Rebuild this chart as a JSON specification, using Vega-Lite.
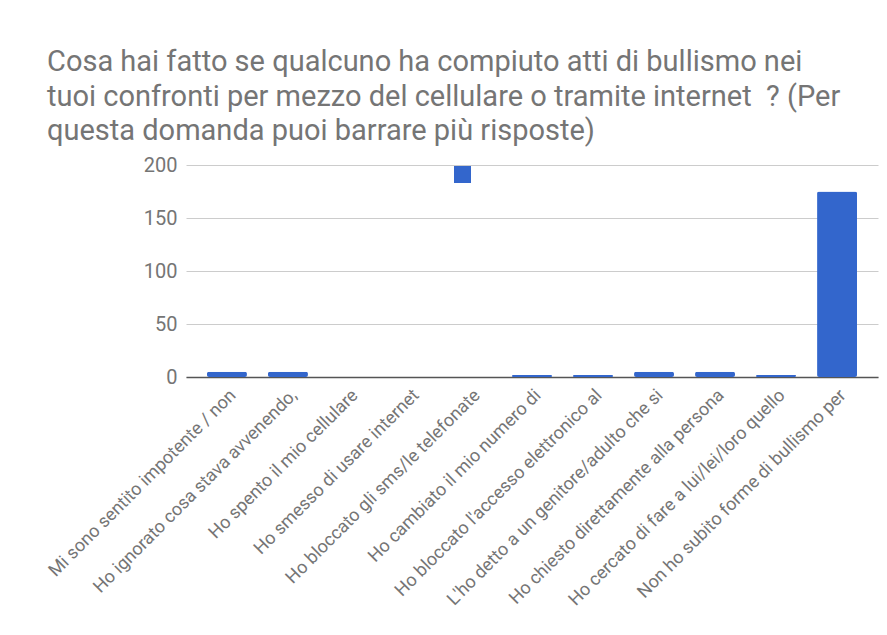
{
  "$schema": "https://vega.github.io/schema/vega-lite/v6.json",
  "width": 692,
  "height": 212,
  "autosize": "none",
  "padding": {"left": 186, "top": 165, "right": 9, "bottom": 258},
  "background": "white",
  "title": {
    "text": ["Cosa hai fatto se qualcuno ha compiuto atti di bullismo nei", "tuoi confronti per mezzo del cellulare o tramite internet \u00a0? (Per", "questa domanda puoi barrare più risposte)"],
    "anchor": "start",
    "frame": "group",
    "dx": -139,
    "offset": 9,
    "font": "Roboto",
    "fontSize": 29,
    "fontWeight": "normal",
    "color": "#757575",
    "lineHeight": 34.5
  },
  "data": {
    "values": [
      {"risposta": "Mi sono sentito impotente / non", "n": 5, "serie": "Risposte"},
      {"risposta": "Ho ignorato cosa stava avvenendo,", "n": 5, "serie": "Risposte"},
      {"risposta": "Ho spento il mio cellulare", "n": 0, "serie": "Risposte"},
      {"risposta": "Ho smesso di usare internet", "n": 0, "serie": "Risposte"},
      {"risposta": "Ho bloccato gli sms/le telefonate", "n": 0, "serie": "Risposte"},
      {"risposta": "Ho cambiato il mio numero di", "n": 2, "serie": "Risposte"},
      {"risposta": "Ho bloccato l'accesso elettronico al", "n": 2, "serie": "Risposte"},
      {"risposta": "L'ho detto a un genitore/adulto che si", "n": 5, "serie": "Risposte"},
      {"risposta": "Ho chiesto direttamente alla persona", "n": 5, "serie": "Risposte"},
      {"risposta": "Ho cercato di fare a lui/lei/loro quello", "n": 2, "serie": "Risposte"},
      {"risposta": "Non ho subito forme di bullismo per", "n": 175, "serie": "Risposte"}
    ]
  },
  "mark": {"type": "bar", "cornerRadius": 2},
  "encoding": {
    "x": {
      "field": "risposta",
      "type": "nominal",
      "sort": null,
      "title": null,
      "scale": {"paddingInner": 0.345, "paddingOuter": 0.344},
      "axis": {
        "labelAngle": -45,
        "labelFont": "Roboto",
        "labelFontSize": 18,
        "labelColor": "#757575",
        "labelLimit": 400,
        "labelPadding": 9,
        "ticks": false,
        "domainColor": "#555555",
        "domainWidth": 1.5,
        "grid": false
      }
    },
    "y": {
      "field": "n",
      "type": "quantitative",
      "title": null,
      "scale": {"domain": [0, 200], "nice": false},
      "axis": {
        "values": [0, 50, 100, 150, 200],
        "labelFont": "Roboto",
        "labelFontSize": 20,
        "labelColor": "#757575",
        "labelPadding": 9,
        "ticks": false,
        "domain": false,
        "gridColor": "#cccccc",
        "gridWidth": 1
      }
    },
    "color": {
      "field": "serie",
      "type": "nominal",
      "scale": {"range": ["#3366cc"]},
      "legend": {
        "title": null,
        "orient": "none",
        "legendX": 268,
        "legendY": 1,
        "symbolType": "square",
        "symbolSize": 289,
        "symbolStrokeWidth": 0,
        "symbolOpacity": 1,
        "labelExpr": "''",
        "padding": 0
      }
    }
  },
  "config": {
    "view": {"stroke": null},
    "font": "Roboto"
  }
}
